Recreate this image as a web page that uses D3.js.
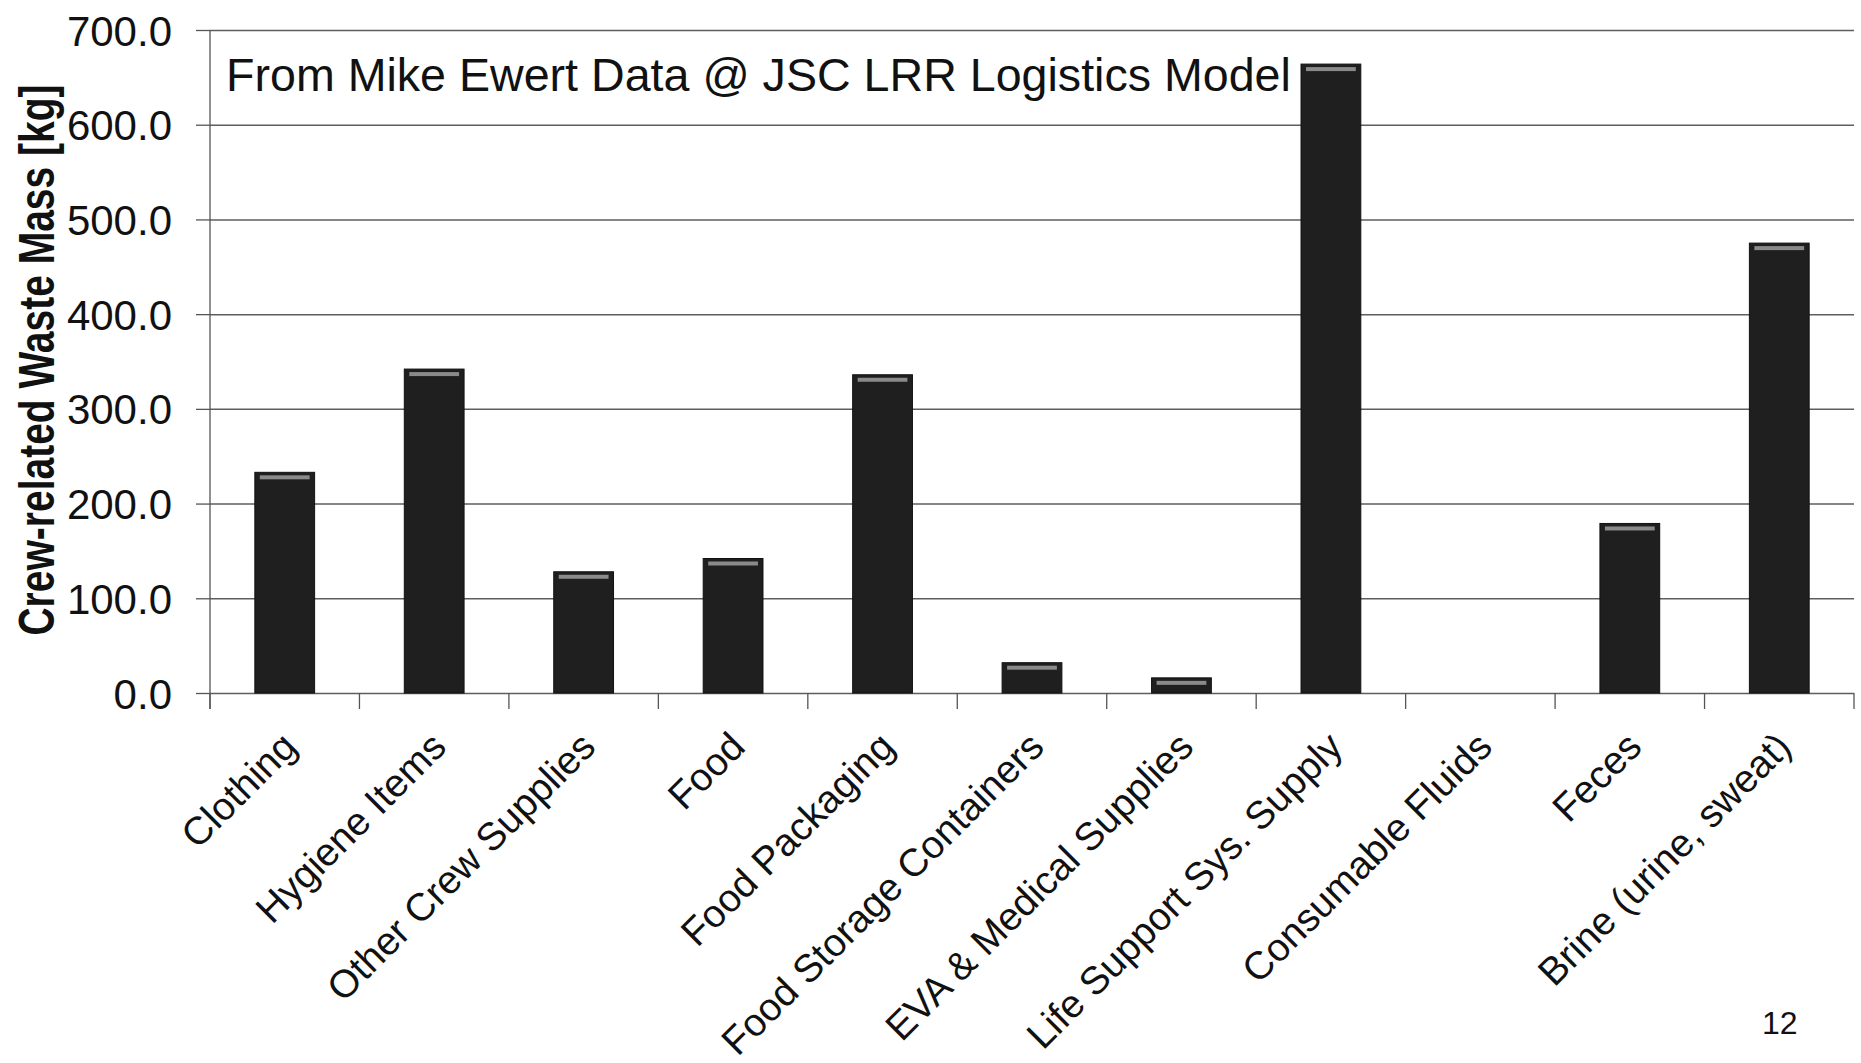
<!DOCTYPE html>
<html>
<head>
<meta charset="utf-8">
<script src="https://cdn.jsdelivr.net/npm/d3@7"></script>
<style>
  body { margin: 0; background: #fff; }
  text { font-family: "Liberation Sans", Arial, sans-serif; fill: #111; }
</style>
</head>
<body>
<script>
// 类别与数值
const categories = ['Clothing', 'Hygiene Items', 'Other Crew Supplies', 'Food', 'Food Packaging',
    'Food Storage Containers', 'EVA & Medical Supplies', 'Life Support Sys. Supply',
    'Consumable Fluids', 'Feces', 'Brine (urine, sweat)'];
const values = [233, 342, 128, 142, 336, 32, 16, 664, 0, 179, 475];
const y_ticks = [0, 100, 200, 300, 400, 500, 600, 700];

const title_text = 'From Mike Ewert Data @ JSC LRR Logistics Model';
const y_title = 'Crew-related Waste Mass [kg]';
const page_no = '12';

// 画布大小
const width = 1861;
const height = 1063;
const [plot_left, plot_right, plot_top, plot_bottom] = [210, 1854, 30, 693];

const svg = d3.select('body').append('svg')
    .attr('width', width)
    .attr('height', height);

svg.append('rect').attr('width', width).attr('height', height).attr('fill', 'white');

const x = d3.scaleBand()
    .domain(categories)
    .range([plot_left, plot_right])
    .paddingInner(0.6)
    .paddingOuter(0.3);
const y = d3.scaleLinear().domain([0, 700]).range([plot_bottom, plot_top]);

// 网格线
const grid = svg.append('g')
    .attr('transform', `translate(${plot_left},0)`)
    .call(d3.axisLeft(y).tickValues(y_ticks).tickSize(-(plot_right - plot_left)).tickFormat(''));
grid.select('.domain').remove();
grid.selectAll('line').attr('stroke', '#5e5e5e').attr('stroke-width', 1.5);

// y 轴
const y_axis = svg.append('g')
    .attr('transform', `translate(${plot_left},0)`)
    .call(d3.axisLeft(y).tickValues(y_ticks).tickSize(14).tickPadding(24).tickFormat(d3.format('.1f')));
y_axis.select('.domain').remove();
y_axis.selectAll('line').attr('stroke', '#555').attr('stroke-width', 1.3);
y_axis.selectAll('text')
    .attr('font-size', 42)
    .attr('dy', '0.36em')
    .style('fill', '#111');

// 轴线
svg.append('line')
    .attr('x1', plot_left).attr('x2', plot_left)
    .attr('y1', plot_top).attr('y2', plot_bottom + 16)
    .attr('stroke', '#555').attr('stroke-width', 1.3);

// x 轴刻度（类别分界）
const step = x.step();
const bounds = d3.range(categories.length + 1).map(i => x.range()[0] + i * step);
svg.append('g').selectAll('line')
    .data(bounds).enter().append('line')
    .attr('x1', d => d).attr('x2', d => d)
    .attr('y1', plot_bottom).attr('y2', plot_bottom + 16)
    .attr('stroke', '#555').attr('stroke-width', 1.3);

// 柱子（值为 0 的类别不画）
const bar_data = categories.map((c, i) => ({ cat: c, value: values[i] })).filter(d => d.value > 0);
const bars = svg.append('g').selectAll('g')
    .data(bar_data).enter().append('g');
bars.append('rect')
    .attr('x', d => x(d.cat))
    .attr('y', d => y(d.value))
    .attr('width', x.bandwidth())
    .attr('height', d => plot_bottom - y(d.value))
    .attr('fill', '#1f1f1f')
    .attr('stroke', '#111')
    .attr('stroke-width', 1);
// 顶部高光
bars.append('rect')
    .attr('x', d => x(d.cat) + 5)
    .attr('y', d => y(d.value) + 3)
    .attr('width', x.bandwidth() - 10)
    .attr('height', 4)
    .attr('fill', '#8a8a8a');

// x 标签
svg.append('g').selectAll('text')
    .data(categories).enter().append('text')
    .attr('transform', d => `translate(${x(d) + x.bandwidth() / 2 + 14},${plot_bottom + 56}) rotate(-45)`)
    .attr('text-anchor', 'end')
    .attr('font-size', 39)
    .text(d => d);

// 标题
svg.append('text')
    .attr('x', 226).attr('y', 91)
    .attr('font-size', 46.6)
    .text(title_text);

// y 轴标题
svg.append('text')
    .attr('transform', `translate(54,360) rotate(-90) scale(0.78,1)`)
    .attr('text-anchor', 'middle')
    .attr('font-size', 50)
    .attr('font-weight', 'bold')
    .text(y_title);

// 页码
svg.append('text')
    .attr('x', 1762).attr('y', 1034)
    .attr('font-size', 32)
    .text(page_no);
</script>
</body>
</html>
